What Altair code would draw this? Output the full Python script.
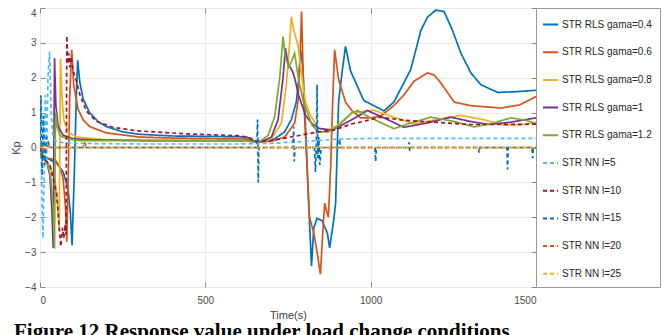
import altair as alt
import pandas as pd

names = ["STR RLS gama=0.4", "STR RLS gama=0.6", "STR RLS gama=0.8", "STR RLS gama=1",
         "STR RLS gama=1.2", "STR NN l=5", "STR NN l=10", "STR NN l=15", "STR NN l=20", "STR NN l=25"]
colors = ["#0072BD", "#D95319", "#EDB120", "#7E2F8E", "#77AC30",
          "#4DBEEE", "#A2142F", "#0072BD", "#D95319", "#EDB120"]
dashes = [[1, 0]] * 5 + [[4, 3]] * 5
x_ticks = [0, 500, 1000, 1500]
y_ticks = [-4, -3, -2, -1, 0, 1, 2, 3, 4]

# STR RLS gama=0.4
t_rls04 = [0, 5, 20, 50, 70, 85, 92, 97, 103, 110, 114, 120, 130, 150, 175, 200, 250, 300, 400, 500, 600, 625,
           640, 655, 680, 710, 740, 760, 775, 783, 788, 795, 803, 812, 821, 828, 838, 853, 869, 876, 888, 894,
           903, 914, 924, 939, 955, 979, 1040, 1070, 1121, 1152, 1172, 1197, 1222, 1247, 1273, 1303, 1333,
           1384, 1440, 1500]
v_rls04 = [0.0, -0.25, -0.3, -0.45, -0.7, -1.2, -1.9, -2.8, -1.0, 1.5, 2.5, 1.9, 1.4, 1.0, 0.75, 0.6, 0.45,
           0.38, 0.33, 0.32, 0.31, 0.3, 0.22, 0.17, 0.18, 0.25, 0.45, 0.8, 1.3, 2.0, 2.8, 2.3, 0.6, -1.5, -3.4,
           -2.3, -2.03, -2.1, -2.45, -2.88, -2.1, -1.6, 1.3, 2.2, 2.9, 2.2, 1.86, 1.35, 1.05, 1.3, 2.23, 3.36,
           3.74, 3.94, 3.9, 3.37, 2.7, 2.14, 1.8, 1.58, 1.6, 1.64]

# STR RLS gama=0.6
t_rls06 = [0, 5, 20, 45, 60, 70, 77, 81, 85, 90, 96, 102, 115, 130, 150, 200, 300, 400, 500, 620, 640, 660,
           700, 740, 770, 780, 786, 791, 798, 808, 815, 828, 838, 848, 855, 861, 866, 872, 879, 885, 891, 903,
           924, 944, 970, 1000, 1030, 1070, 1100, 1131, 1172, 1192, 1212, 1253, 1303, 1394, 1450, 1500]
v_rls06 = [0.0, -0.2, -0.3, -0.35, -0.55, -0.9, -1.7, -2.7, -1.0, 1.5, 2.8, 1.8, 1.1, 0.8, 0.6, 0.42, 0.3,
           0.27, 0.26, 0.25, 0.2, 0.16, 0.18, 0.3, 0.7, 1.3, 2.5, 3.9, 1.3, -0.6, -2.0, -2.45, -3.0, -3.63,
           -2.45, -1.6, -1.8, -2.0, -0.58, 1.3, 2.8, 1.95, 1.3, 1.05, 0.85, 0.85, 0.9, 1.2, 1.5, 1.9, 2.14,
           2.08, 1.85, 1.3, 1.2, 1.13, 1.22, 1.46]

# STR RLS gama=0.8
t_rls08 = [0, 5, 25, 45, 53, 58, 60, 62, 66, 72, 85, 110, 200, 400, 620, 645, 670, 700, 730, 745, 755, 760,
           768, 781, 793, 803, 818, 843, 873, 903, 944, 1010, 1060, 1131, 1200, 1273, 1340, 1404, 1460, 1500]
v_rls08 = [0.0, -0.3, -0.45, -0.9, -1.6, -2.4, 0.0, 2.55, 1.5, 0.8, 0.45, 0.3, 0.22, 0.2, 0.2, 0.16, 0.17,
           0.25, 0.7, 1.8, 3.0, 3.75, 3.35, 2.9, 1.95, 1.3, 0.92, 0.55, 0.5, 0.66, 1.0, 1.07, 0.9, 0.68, 0.8,
           0.92, 0.8, 0.64, 0.66, 0.72]

# STR RLS gama=1
t_rls1 = [0, 5, 20, 30, 36, 40, 42, 44, 48, 55, 70, 100, 150, 300, 600, 630, 650, 670, 700, 720, 735, 742,
          750, 763, 770, 782, 803, 823, 843, 884, 944, 990, 1040, 1100, 1170, 1242, 1300, 1354, 1420, 1500]
v_rls1 = [0.0, -0.3, -0.4, -0.8, -1.8, -2.88, 0.0, 2.56, 1.2, 0.6, 0.35, 0.25, 0.22, 0.2, 0.2, 0.2, 0.17,
          0.17, 0.3, 0.8, 2.0, 2.85, 2.4, 2.2, 2.0, 1.5, 0.92, 0.68, 0.55, 0.5, 0.8, 1.06, 0.85, 0.58, 0.7,
          0.87, 0.75, 0.66, 0.72, 0.85]

# STR RLS gama=1.2
t_rls12 = [0, 5, 20, 32, 40, 44, 46, 48, 52, 60, 80, 120, 300, 600, 630, 645, 665, 690, 710, 725, 735, 742,
           752, 762, 770, 782, 797, 823, 843, 873, 903, 944, 960, 1000, 1070, 1120, 1182, 1250, 1313, 1370,
           1424, 1470, 1500]
v_rls12 = [0.0, -0.3, -0.4, -0.8, -1.8, -2.9, 0.2, 1.0, 0.6, 0.35, 0.25, 0.2, 0.2, 0.2, 0.19, 0.15, 0.17,
           0.35, 0.9, 2.0, 3.18, 2.6, 2.3, 2.5, 2.7, 1.95, 1.3, 0.63, 0.45, 0.45, 0.63, 1.0, 1.06, 0.85, 0.54,
           0.7, 0.87, 0.75, 0.59, 0.7, 0.85, 0.78, 0.68]

# STR NN l=5
t_nn5 = [0, 3, 6, 9, 12, 16, 20, 24, 29, 33, 38, 45, 60, 100, 300, 600, 700, 800, 900, 1000, 1500]
v_nn5 = [0.0, 1.2, -1.5, -2.6, -1.0, 1.5, -0.5, 2.0, 2.75, 1.2, 0.4, 0.2, 0.15, 0.12, 0.1, 0.1, 0.12, 0.17,
         0.24, 0.26, 0.26]

# STR NN l=10
t_nn10 = [0, 10, 30, 50, 60, 63, 68, 72, 76, 79, 81, 84, 87, 90, 94, 100, 110, 121, 140, 170, 220, 291, 442,
          594, 630, 650, 665, 700, 742, 843, 888, 944, 970, 1030, 1100, 1200, 1300, 1400, 1500]
v_nn10 = [0.0, -0.3, -0.5, -1.3, -2.5, -2.84, -2.3, -2.6, -2.2, -2.5, 3.2, 2.4, 2.7, 2.3, 2.6, 2.2, 1.9, 1.5,
          1.05, 0.75, 0.58, 0.48, 0.39, 0.34, 0.3, 0.2, 0.17, 0.2, 0.27, 0.45, 0.5, 0.68, 0.73, 0.87, 0.78,
          0.72, 0.66, 0.66, 0.67]

# STR NN l=15
t_nn15 = [0, 3, 6, 10, 14, 20, 30, 655, 658, 660, 662, 765, 767, 769, 771, 830, 833, 836, 838, 840, 843, 846,
          850, 904, 906, 908, 1013, 1015, 1017, 1114, 1116, 1118, 1120, 1326, 1328, 1330, 1412, 1414, 1416,
          1488, 1490, 1492, 1500]
v_nn15 = [0.0, 1.5, -0.8, 0.9, -0.5, 0.3, 0.0, 0.0, 0.8, -1.0, 0.0, 0.0, 0.6, -0.4, 0.0, 0.0, -0.7, 0.2, 1.8,
          -0.3, 0.3, -0.5, 0.0, 0.0, 0.25, 0.0, 0.0, -0.4, 0.0, 0.0, 0.15, -0.1, 0.0, 0.0, -0.15, 0.0, 0.0,
          -0.63, 0.0, 0.0, -0.3, 0.0, 0.0]

# STR NN l=20
t_nn20 = [0, 10, 20, 40, 130, 135, 140, 1500]
v_nn20 = [0.1, -0.1, 0.05, 0.0, 0.0, 0.15, 0.0, 0.0]

# STR NN l=25
t_nn25 = [0, 1500]
v_nn25 = [0.0, 0.0]

series_t = [t_rls04, t_rls06, t_rls08, t_rls1, t_rls12, t_nn5, t_nn10, t_nn15, t_nn20, t_nn25]
series_v = [v_rls04, v_rls06, v_rls08, v_rls1, v_rls12, v_nn5, v_nn10, v_nn15, v_nn20, v_nn25]

rows = []
for name, ts, vs in zip(names, series_t, series_v):
    for t, v in zip(ts, vs):
        rows.append({"t": t, "v": v, "s": name})
df = pd.DataFrame(rows)

legend = alt.Legend(
    title=None, orient="none", legendX=496, legendY=0,
    symbolType="stroke", symbolSize=225, symbolStrokeWidth=2, symbolOffset=-2,
    labelFont="Liberation Sans", labelFontSize=10, labelColor="#262626", labelOffset=3,
    rowPadding=13.7, padding=8, strokeColor="#9a9a9a", fillColor="white",
)

xs = alt.Scale(domain=[0, 1500], nice=False)
ys = alt.Scale(domain=[-4, 4], nice=False)

lines = alt.Chart(df).mark_line(strokeWidth=1.7, clip=True).encode(
    x=alt.X("t:Q", scale=xs,
            axis=alt.Axis(values=x_ticks, title="Time(s)", format="d", offset=-5, domain=False,
                          ticks=True, tickSize=5, labelPadding=8, titlePadding=4)),
    y=alt.Y("v:Q", scale=ys,
            axis=alt.Axis(values=y_ticks, title="Kp", format="d", offset=-5, domain=False,
                          ticks=True, tickSize=5, labelPadding=4, titlePadding=3,
                          labelBaseline={"condition": {"test": "datum.value == 4", "value": "top"},
                                         "value": "middle"})),
    color=alt.Color("s:N", scale=alt.Scale(domain=names, range=colors), legend=legend),
    strokeDash=alt.StrokeDash("s:N", scale=alt.Scale(domain=names, range=dashes), legend=legend),
    order=alt.Order("t:Q"),
)

frame_ticks = alt.Chart(df).mark_line(strokeOpacity=0).encode(
    x=alt.X("t:Q", scale=xs,
            axis=alt.Axis(values=x_ticks, orient="top", title=None, labels=False, grid=False,
                          domain=False, ticks=True, tickSize=5, offset=-5)),
    y=alt.Y("v:Q", scale=ys,
            axis=alt.Axis(values=y_ticks, orient="right", title=None, labels=False, grid=False,
                          domain=False, ticks=True, tickSize=5, offset=-5)),
    detail="s:N",
)

chart = alt.layer(lines, frame_ticks).resolve_axis(x="independent", y="independent").properties(
    width=496, height=279,
    autosize=alt.AutoSizeParams(type="none"),
    padding={"left": 32, "top": 0, "right": 128, "bottom": 48},
    title=alt.Title("Figure 12 Response value under load change conditions", orient="bottom",
                    anchor="start", frame="group", font="Liberation Serif", fontSize=21,
                    fontWeight="bold", color="black", dx=-26, offset=1),
).configure_view(
    stroke="#9a9a9a", strokeWidth=1
).configure_axis(
    grid=True, gridColor="#ebebeb", gridWidth=1, tickColor="#8c8c8c",
    labelFont="Liberation Sans", labelFontSize=10, labelColor="#4d4d4d",
    titleFont="Liberation Sans", titleFontSize=11, titleFontWeight="normal", titleColor="#404040",
)

chart.save("out.html", embed_options={"renderer": "svg", "actions": False})
